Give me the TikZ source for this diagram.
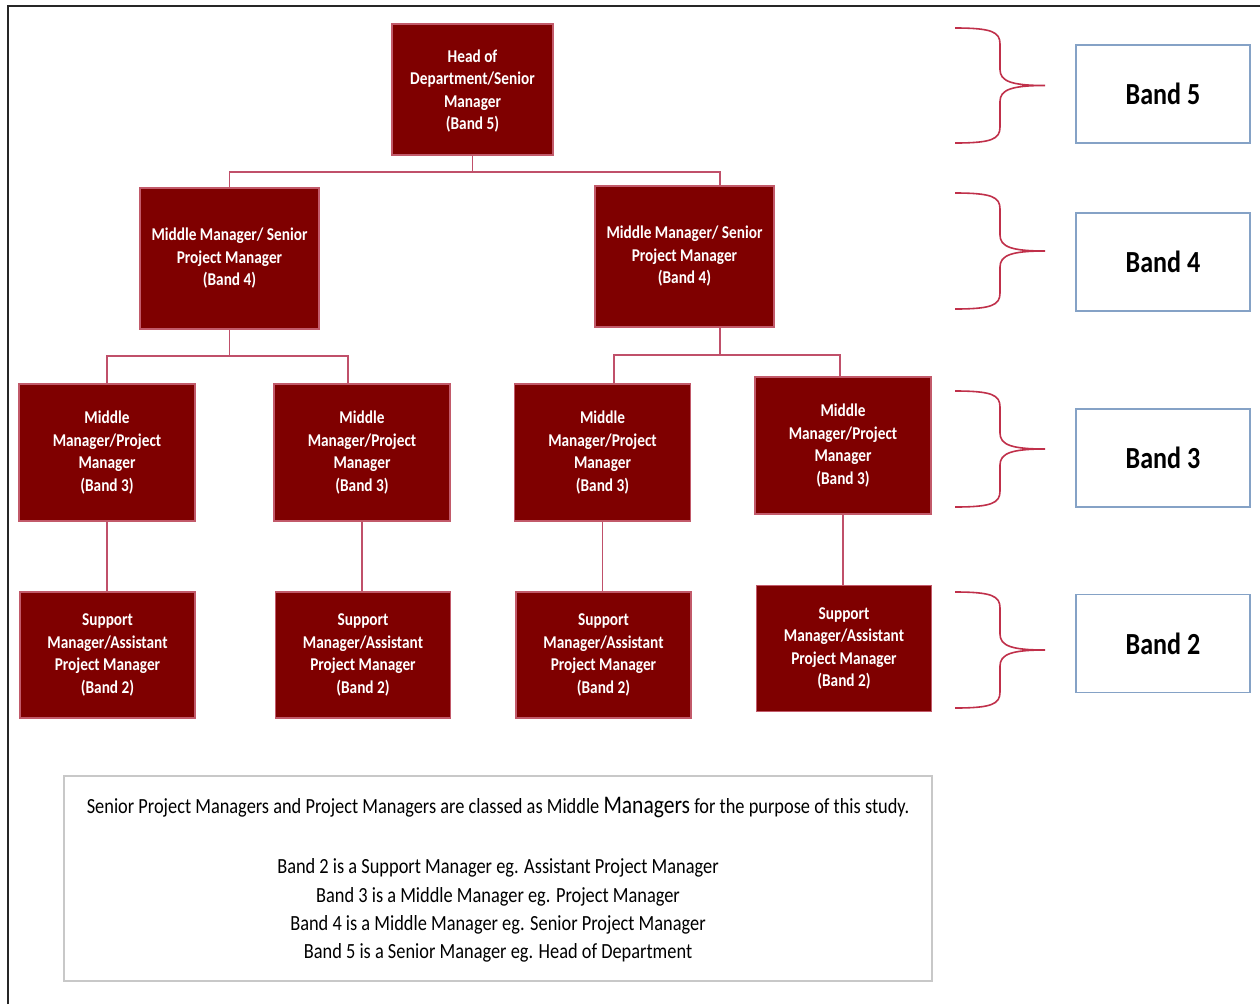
\documentclass[tikz,border=0pt]{standalone}
\usepackage{fontspec}
\setmainfont{Carlito}[FakeStretch=0.85]
\definecolor{boxfill}{HTML}{7F0000}
\definecolor{boxedge}{HTML}{C25A6A}
\definecolor{linkcol}{HTML}{C0506A}
\definecolor{bracecol}{HTML}{C0304A}
\definecolor{bandedge}{HTML}{85A2C6}
\definecolor{noteedge}{HTML}{C8C8C8}
\begin{document}
\begin{tikzpicture}[x=0.75pt,y=-0.75pt,
  orgbox/.style={draw=boxedge, fill=boxfill, line width=0.8pt, text=white,
    font=\bfseries\fontsize{13.5}{16.9}\selectfont, align=center, inner sep=0pt},
  headbox/.style={orgbox, minimum width=120.75pt, minimum height=98.25pt},
  fourbox/.style={orgbox, minimum width=134.25pt, minimum height=105.75pt},
  threebox/.style={orgbox, minimum width=132pt, minimum height=102.75pt},
  twobox/.style={orgbox, minimum width=131.25pt, minimum height=94.5pt},
  bandbox/.style={draw=bandedge, line width=1.1pt, fill=white,
    font=\bfseries\fontsize{23}{28}\selectfont, minimum width=130.5pt, minimum height=73.5pt, inner sep=0pt},
  link/.style={draw=linkcol, line width=1.3pt},
  bracepath/.style={draw=bracecol, line width=1.2pt}]
\useasboundingbox (0,0) rectangle (1260,1004);
\fill[white] (0,0) rectangle (1260,1004);
% frame
\draw[black!85, line width=1.5pt] (8,1004) -- (8,6) -- (1260,6);

% org boxes
\node[headbox] (head) at (472.5,89.5) {\strut Head of\\Department/Senior\\Manager\\(Band 5)};
\node[fourbox] (b4l) at (229.5,258.5) {Middle Manager/ Senior\\Project Manager\\(Band 4)};
\node[fourbox] (b4r) at (684.5,256.5) {Middle Manager/ Senior\\Project Manager\\(Band 4)};
\node[threebox] (b3a) at (107,452.5) {Middle\\Manager/Project\\Manager\\(Band 3)};
\node[threebox] (b3b) at (362,452.5) {Middle\\Manager/Project\\Manager\\(Band 3)};
\node[threebox] (b3c) at (602.5,452.5) {Middle\\Manager/Project\\Manager\\(Band 3)};
\node[threebox] (b3d) at (843,445.5) {Middle\\Manager/Project\\Manager\\(Band 3)};
\node[twobox] (b2a) at (107.5,655) {Support\\Manager/Assistant\\Project Manager\\(Band 2)};
\node[twobox] (b2b) at (363,655) {Support\\Manager/Assistant\\Project Manager\\(Band 2)};
\node[twobox] (b2c) at (603.5,655) {Support\\Manager/Assistant\\Project Manager\\(Band 2)};
\node[twobox] (b2d) at (844,648.5) {Support\\Manager/Assistant\\Project Manager\\(Band 2)};

% junctions
\coordinate (j1) at (472.5,172);
\coordinate (j2) at (229.5,356);
\coordinate (j3) at (720,355);

% connectors
\draw[link] (head.south) -- (j1);
\draw[link] (b4l.north) |- (j1);
\draw[link] ([xshift=26.6pt]b4r.north) |- (j1);
\draw[link] (b4l.south) -- (j2);
\draw[link] (b3a.north) |- (j2);
\draw[link] ([xshift=-10.5pt]b3b.north) |- (j2);
\draw[link] ([xshift=26.6pt]b4r.south) -- (j3);
\draw[link] ([xshift=8.6pt]b3c.north) |- (j3);
\draw[link] ([xshift=-2.25pt]b3d.north) |- (j3);
\draw[link] (b3a.south) -- (b3a.south |- b2a.north);
\draw[link] (b3b.south) -- (b3b.south |- b2b.north);
\draw[link] (b3c.south) -- (b3c.south |- b2c.north);
\draw[link] (b3d.south) -- (b3d.south |- b2d.north);

% braces
\foreach \ya/\yb in {28/143, 193/309, 391/507, 592/708}{
  \pgfmathsetmacro{\ym}{(\ya+\yb)/2}
  \draw[bracepath] (955,\ya) .. controls (992,\ya) and (1000,\ya+4) .. (1000,\ya+16)
    -- (1000,\ym-16) .. controls (1000,\ym-4) and (1012,\ym) .. (1045,\ym)
    .. controls (1012,\ym) and (1000,\ym+4) .. (1000,\ym+16)
    -- (1000,\yb-16) .. controls (1000,\yb-4) and (992,\yb) .. (955,\yb);
}

% band boxes
\node[bandbox] (band5) at (1163,94) {Band 5};
\node[bandbox] (band4) at (1163,262) {Band 4};
\node[bandbox] (band3) at (1163,458) {Band 3};
\node[bandbox] (band2) at (1163,643.5) {Band 2};

% note
\draw[noteedge, line width=1.1pt] (64,776) rectangle (932,981);
\node[font=\fontsize{16.2}{21}\selectfont, inner sep=0pt] (note1) at (498,808)
  {Senior Project Managers and Project Managers are classed as Middle {\fontsize{19}{21}\selectfont Managers} for the purpose of this study.};
\node[font=\fontsize{16.2}{21.2}\selectfont, align=center, inner sep=0pt] (note2) at (498,910.5)
  {Band 2 is a Support Manager eg. Assistant Project Manager\\
   Band 3 is a Middle Manager eg. Project Manager\\
   Band 4 is a Middle Manager eg. Senior Project Manager\\
   Band 5 is a Senior Manager eg. Head of Department};
\end{tikzpicture}
\end{document}
